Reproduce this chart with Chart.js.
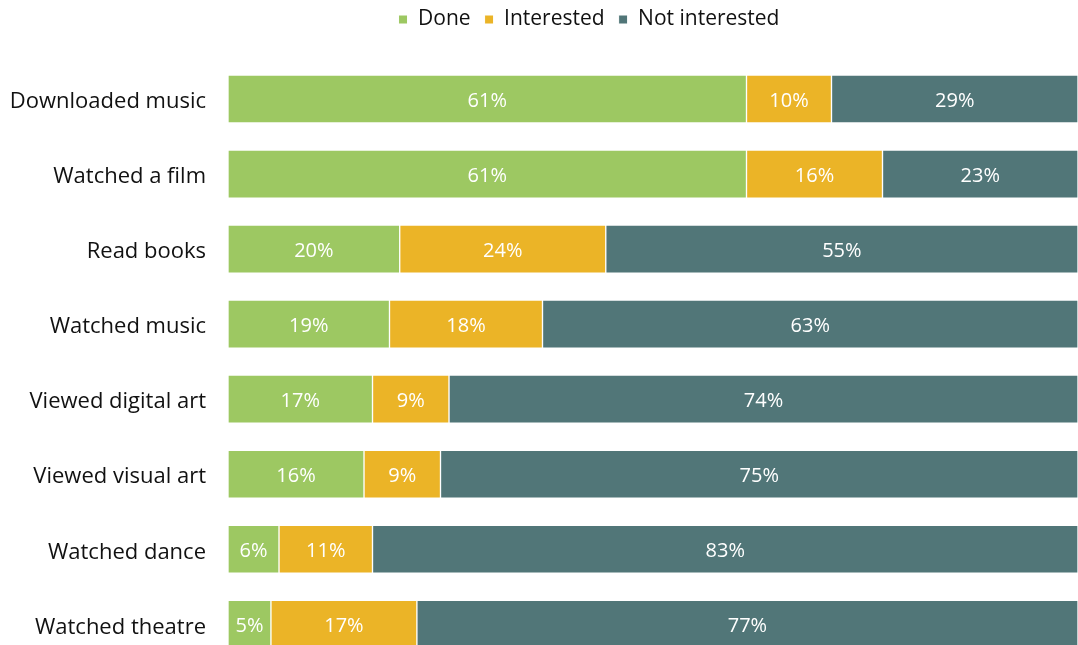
<!DOCTYPE html>
<html>
<head>
<meta charset="utf-8">
<script src="https://cdn.jsdelivr.net/npm/chart.js@4.4.1/dist/chart.umd.min.js"></script>
<style>
  html, body { margin: 0; padding: 0; background: #fff; overflow: hidden; }
  #wrap { position: relative; width: 1078px; height: 697px; }
</style>
</head>
<body>
<div id="wrap"><canvas id="activityChart"></canvas></div>
<script>
// Share of respondents per online cultural activity
const categories = [
    'Downloaded music', 'Watched a film', 'Read books', 'Watched music',
    'Viewed digital art', 'Viewed visual art', 'Watched dance', 'Watched theatre'
];
const doneValues = [61, 61, 20, 19, 17, 16, 6, 5];
const interestedValues = [10, 16, 24, 18, 9, 9, 11, 17];
const notInterestedValues = [29, 23, 55, 63, 74, 75, 83, 77];

const seriesNames = ['Done', 'Interested', 'Not interested'];
const seriesColors = ['#9dc862', '#ebb427', '#517678'];

// rows are drawn as 100% stacks, so scale each value by its row total
const rowTotals = categories.map((c, i) => doneValues[i] + interestedValues[i] + notInterestedValues[i]);
const toShare = (arr) => arr.map((v, i) => v / rowTotals[i] * 100);

const rawSeries = [doneValues, interestedValues, notInterestedValues];

// writes the rounded percentage in the middle of every segment
const segmentLabels = {
    id: 'segmentLabels',
    afterDatasetsDraw(chart) {
        const ctx = chart.ctx;
        ctx.save();
        ctx.font = '20px "Open Sans"';
        ctx.fillStyle = '#ffffff';
        ctx.textAlign = 'center';
        ctx.textBaseline = 'middle';
        chart.data.datasets.forEach((ds, di) => {
            chart.getDatasetMeta(di).data.forEach((bar, i) => {
                const mid = (bar.x + bar.base) / 2;
                ctx.fillText(rawSeries[di][i] + '%', mid, bar.y + 2);
            });
        });
        ctx.restore();
    }
};

// extra room under the legend, and the legend nudged right of centre
const legendPlacement = {
    id: 'legendPlacement',
    beforeLayout(chart) {
        const lg = chart.legend;
        if (lg && !lg._padded) {
            const fit = lg.fit;
            lg.fit = function () {
                fit.call(this);
                this.height += 16.5;
            };
            lg._padded = true;
        }
    },
    afterLayout(chart) {
        const lg = chart.legend;
        if (lg) {
            lg.left += 50;
            lg.right += 50;
            lg.top -= 5;
            lg.bottom -= 5;
        }
    }
};

const ctx = document.getElementById('activityChart').getContext('2d');
new Chart(ctx, {
    type: 'bar',
    data: {
        labels: categories,
        datasets: rawSeries.map((arr, k) => ({
            label: seriesNames[k],
            data: toShare(arr),
            backgroundColor: seriesColors[k],
            borderColor: '#ffffff',
            borderWidth: 1,
            borderSkipped: false,
            barThickness: 48
        }))
    },
    options: {
        indexAxis: 'y',
        responsive: true,
        maintainAspectRatio: false,
        animation: false,
        layout: { padding: 0 },
        plugins: {
            legend: {
                position: 'top',
                align: 'center',
                labels: {
                    color: '#111111',
                    font: { family: 'Open Sans', size: 21 },
                    boxWidth: 9,
                    boxHeight: 9,
                    padding: 14
                }
            },
            tooltip: { enabled: false }
        },
        scales: {
            x: {
                stacked: true,
                min: 0,
                max: 100,
                display: false
            },
            y: {
                stacked: true,
                grid: { display: false, drawTicks: false },
                border: { display: false },
                ticks: {
                    color: '#111111',
                    padding: 22,
                    labelOffset: 3,
                    font: { family: 'Open Sans', size: 22 }
                },
                afterFit(scale) { scale.width = 228; }
            }
        }
    },
    plugins: [segmentLabels, legendPlacement]
});
</script>
</body>
</html>
